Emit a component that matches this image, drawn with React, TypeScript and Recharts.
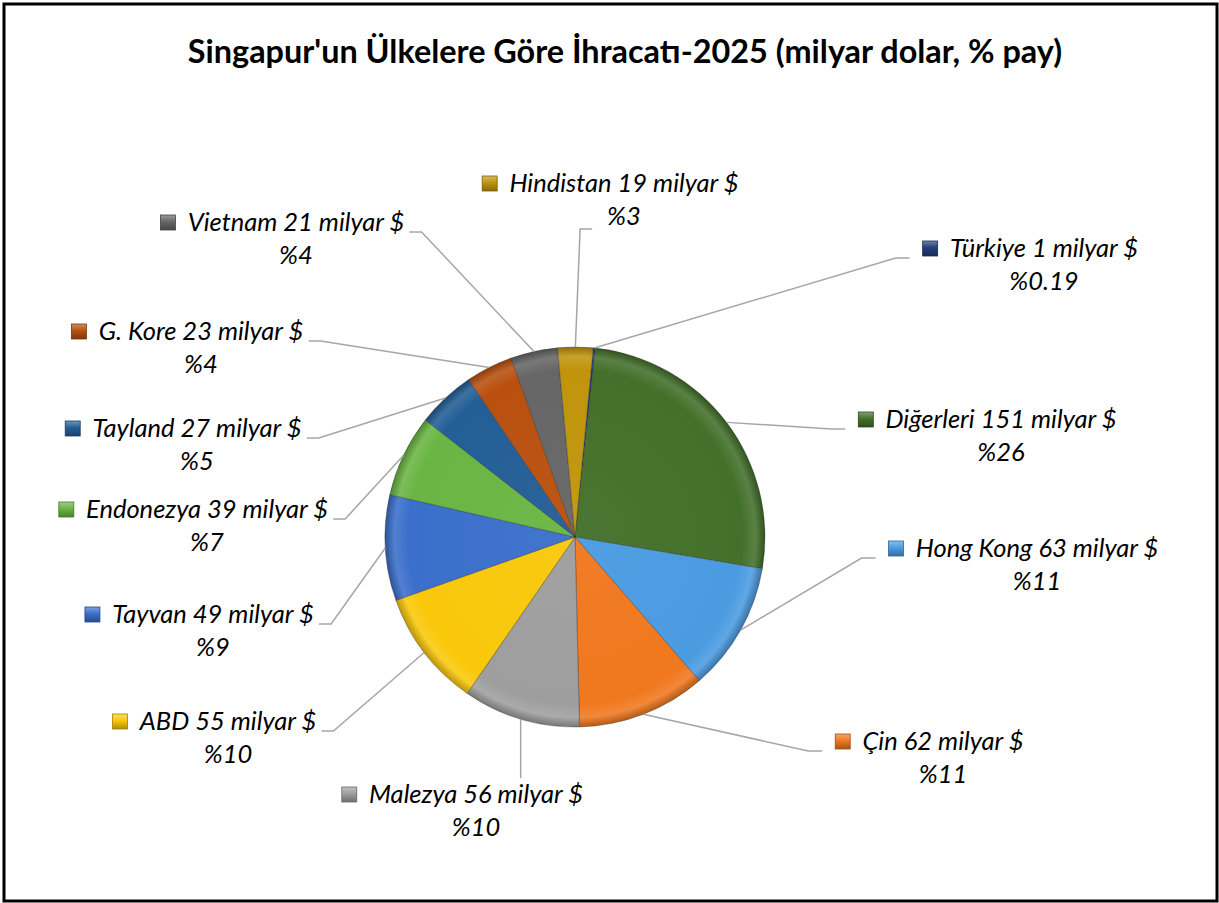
import { PieChart, Pie, Cell } from "recharts";

// ülkeler, saat yönünde (en üstten başlayarak)
const countries = [
  "Türkiye",
  "Diğerleri",
  "Hong Kong",
  "Çin",
  "Malezya",
  "ABD",
  "Tayvan",
  "Endonezya",
  "Tayland",
  "G. Kore",
  "Vietnam",
  "Hindistan",
];
const exportsBn = [1, 151, 63, 62, 56, 55, 49, 39, 27, 23, 21, 19];
const sharePct = [0.19, 26, 11, 11, 10, 10, 9, 7, 5, 4, 4, 3];

const colors = [
  "#213F7A",
  "#43702A",
  "#4B9BE1",
  "#F0781E",
  "#9E9E9E",
  "#F9C80A",
  "#3A6FCB",
  "#6AB543",
  "#235E96",
  "#B9500F",
  "#666666",
  "#C0950C",
];

// label placement relative to pie center (text center x, first baseline y)
type Hook = "left" | "right" | "right2" | "up";
const labelSpots: { dx: number; dy: number; hook: Hook }[] = [
  { dx: 469, dy: -280, hook: "right" },
  { dx: 426, dy: -109, hook: "right" },
  { dx: 462, dy: 20, hook: "right" },
  { dx: 368, dy: 213, hook: "right" },
  { dx: -99, dy: 266, hook: "up" },
  { dx: -347, dy: 193, hook: "left" },
  { dx: -362, dy: 86, hook: "left" },
  { dx: -368, dy: -19, hook: "left" },
  { dx: -378, dy: -100, hook: "left" },
  { dx: -374, dy: -197, hook: "left" },
  { dx: -279, dy: -306, hook: "left" },
  { dx: 49, dy: -345, hook: "right2" },
];

const W = 1219;
const H = 903;
const PIE_CX = 575;
const PIE_CY = 537;
const PIE_R = 190;
const FIRST_SLICE = 5.5; // degrees clockwise from 12 o'clock
const LABEL_FONT = "Lato, 'Open Sans', sans-serif";
const LABEL_SIZE = 25.5;
const LINE_GAP = 33;
const KEY = 15;

const data = countries.map((name, i) => ({
  name,
  value: sharePct[i],
  bn: exportsBn[i],
}));

function shade(hex: string, amt: number) {
  const n = parseInt(hex.slice(1), 16);
  const ch = [(n >> 16) & 255, (n >> 8) & 255, n & 255].map((c) =>
    Math.round(amt >= 0 ? c + (255 - c) * amt : c * (1 + amt))
  );
  return `rgb(${ch[0]},${ch[1]},${ch[2]})`;
}

let ctx: CanvasRenderingContext2D | null = null;
function textWidth(s: string) {
  if (!ctx) ctx = document.createElement("canvas").getContext("2d");
  if (!ctx) return s.length * LABEL_SIZE * 0.45;
  ctx.font = `italic ${LABEL_SIZE}px ${LABEL_FONT}`;
  return ctx.measureText(s).width;
}

const RAD = Math.PI / 180;

function renderLabel(props: any) {
  const { cx, cy, midAngle, outerRadius, index } = props;
  const spot = labelSpots[index];
  const sx = cx + outerRadius * Math.cos(-midAngle * RAD);
  const sy = cy + outerRadius * Math.sin(-midAngle * RAD);
  const tx = cx + spot.dx;
  const by = cy + spot.dy;
  const line1 = `${countries[index]} ${exportsBn[index]} milyar $`;
  const line2 = `%${sharePct[index]}`;
  const w1 = textWidth(line1);
  const w2 = textWidth(line2);
  const keyX = tx - w1 / 2 - 12 - KEY;

  let pts: number[][];
  if (spot.hook === "left") {
    const r = tx + w1 / 2;
    pts = [
      [sx, sy],
      [r + 17, by + 1],
      [r + 5, by + 1],
    ];
  } else if (spot.hook === "right") {
    pts = [
      [sx, sy],
      [keyX - 27, by + 1],
      [keyX - 13, by + 1],
    ];
  } else if (spot.hook === "right2") {
    const l2 = tx - w2 / 2;
    pts = [
      [sx, sy],
      [l2 - 27, by + LINE_GAP + 4],
      [l2 - 15, by + LINE_GAP + 4],
    ];
  } else {
    pts = [
      [sx, sy],
      [sx, by - 25],
    ];
  }

  return (
    <g key={`lbl-${index}`}>
      <polyline
        points={pts.map((p) => p.join(",")).join(" ")}
        fill="none"
        stroke="#A6A6A6"
        strokeWidth={1.5}
      />
      <rect
        x={keyX}
        y={by - 16}
        width={KEY}
        height={KEY}
        fill={`url(#key${index})`}
        stroke={shade(colors[index], -0.35)}
        strokeWidth={0.8}
      />
      <text
        x={tx}
        y={by}
        textAnchor="middle"
        fontFamily={LABEL_FONT}
        fontStyle="italic"
        fontSize={LABEL_SIZE}
        fill="#000"
      >
        {line1}
      </text>
      <text
        x={tx}
        y={by + LINE_GAP}
        textAnchor="middle"
        fontFamily={LABEL_FONT}
        fontStyle="italic"
        fontSize={LABEL_SIZE}
        fill="#000"
      >
        {line2}
      </text>
    </g>
  );
}

export default function App() {
  return (
    <div
      style={{
        position: "absolute",
        left: 0,
        top: 0,
        width: W,
        height: H,
        background: "#fff",
      }}
    >
      <svg
        width={W}
        height={H}
        style={{ position: "absolute", left: 0, top: 0 }}
      >
        <defs>
          {colors.map((c, i) => (
            <radialGradient
              key={`s${i}`}
              id={`slice${i}`}
              gradientUnits="userSpaceOnUse"
              cx={PIE_CX}
              cy={PIE_CY}
              r={PIE_R}
            >
              <stop offset="0%" stopColor={shade(c, 0.04)} />
              <stop offset="88%" stopColor={c} />
              <stop offset="95%" stopColor={shade(c, 0.12)} />
              <stop offset="100%" stopColor={shade(c, -0.25)} />
            </radialGradient>
          ))}
          {colors.map((c, i) => (
            <linearGradient key={`k${i}`} id={`key${i}`} x1="0" y1="0" x2="0" y2="1">
              <stop offset="0%" stopColor={shade(c, 0.35)} />
              <stop offset="45%" stopColor={c} />
              <stop offset="100%" stopColor={shade(c, -0.3)} />
            </linearGradient>
          ))}
        </defs>
        <rect
          x={4}
          y={4}
          width={1213}
          height={897}
          fill="#fff"
          stroke="#000"
          strokeWidth={3}
        />
        <text
          x={625}
          y={63}
          textAnchor="middle"
          fontFamily="Lato, 'Open Sans', sans-serif"
          fontWeight={700}
          fontSize={32.4}
          fill="#000"
        >
          Singapur'un Ülkelere Göre İhracatı-2025 (milyar dolar, % pay)
        </text>
      </svg>
      <div style={{ position: "absolute", left: 0, top: 0 }}>
        <PieChart width={W} height={H} margin={{ top: 0, right: 0, bottom: 0, left: 0 }}>
          <Pie
            data={data}
            dataKey="value"
            nameKey="name"
            cx={PIE_CX}
            cy={PIE_CY}
            outerRadius={PIE_R}
            startAngle={90 - FIRST_SLICE}
            endAngle={90 - FIRST_SLICE - 360}
            label={renderLabel}
            labelLine={false}
            isAnimationActive={false}
          >
            {data.map((d, i) => (
              <Cell
                key={d.name}
                fill={`url(#slice${i})`}
                stroke="rgba(40,40,40,0.35)"
                strokeWidth={1}
              />
            ))}
          </Pie>
        </PieChart>
      </div>
    </div>
  );
}
